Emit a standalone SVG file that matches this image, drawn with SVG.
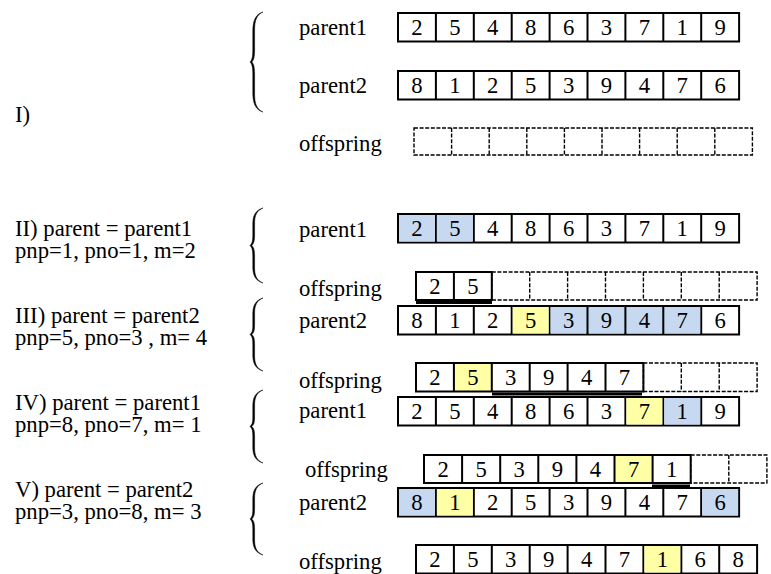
<svg xmlns="http://www.w3.org/2000/svg" xmlns:xlink="http://www.w3.org/1999/xlink" width="771" height="574" viewBox="0 0 771 574">
  <style>
    text { font-family: "Liberation Serif", "Times New Roman", serif; font-size: 22.7px; fill: #000; }
    .num { text-anchor: middle; }
    .box { fill: none; stroke: #000; stroke-width: 2; }
    .dash { fill: none; stroke: #000; stroke-width: 1.4; stroke-dasharray: 4 1.6; }
    .blue { fill: #C6D9F1; }
    .yel { fill: #FFFFA6; }
    .brace { fill: #000; stroke: #000; stroke-width: 0.5; stroke-linejoin: round; }
    .uline { stroke: #000; stroke-width: 3; }
  </style>
  <defs>
    <!-- nine solid cells, 37.9 wide -->
    <g id="solid9">
      <rect width="341.1" height="28.5" fill="#fff"/>
      <rect class="box" width="341.1" height="28.5"/>
      <path class="box" d="M37.9 0v28.5M75.8 0v28.5M113.7 0v28.5M151.6 0v28.5M189.5 0v28.5M227.4 0v28.5M265.3 0v28.5M303.2 0v28.5"/>
    </g>
  </defs>

  <!-- step labels -->
  <g id="labels">
    <text x="15" y="122">I)</text>
    <text x="15" y="236">II) parent = parent1</text>
    <text x="15" y="258">pnp=1, pno=1, m=2</text>
    <text x="15" y="323">III) parent = parent2</text>
    <text x="15" y="345">pnp=5, pno=3 , m= 4</text>
    <text x="15" y="410">IV) parent = parent1</text>
    <text x="15" y="432">pnp=8, pno=7, m= 1</text>
    <text x="15" y="497">V) parent = parent2</text>
    <text x="15" y="519">pnp=3, pno=8, m= 3</text>
  </g>

  <!-- braces: filled so the arms swell like a typeset brace -->
  <g id="braces">
    <path class="brace" d="M263 12C256 14 253 20 252.8 30L252.8 50C252.8 57 252 60 250 62C252 64 252.8 67 252.8 74L252.8 94C253 104 256 110 263 112C257 109.5 254.6 104 254.6 94L254.6 74C254.6 67 253.8 64 251.8 62C253.8 60 254.6 57 254.6 50L254.6 30C254.6 20 257 14.5 263 12Z"/>
    <path class="brace" d="M263 208C256 210 253 215 252.8 223L252.8 235C252.8 241 252 243.5 250 245.5C252 247.5 252.8 250 252.8 256L252.8 268C253 276 256 281 263 283C257 280.5 254.6 276 254.6 268L254.6 256C254.6 250 253.8 247.5 251.8 245.5C253.8 243.5 254.6 241 254.6 235L254.6 223C254.6 215 257 210.5 263 208Z"/>
    <path class="brace" d="M263 298C256 300 253 305 252.8 313L252.8 325C252.8 331 252 332.5 250 334.5C252 336.5 252.8 338 252.8 344L252.8 356C253 364 256 369 263 371C257 368.5 254.6 364 254.6 356L254.6 344C254.6 338 253.8 336.5 251.8 334.5C253.8 332.5 254.6 331 254.6 325L254.6 313C254.6 305 257 300.5 263 298Z"/>
    <path class="brace" d="M263 390C256 392 253 397 252.8 405L252.8 417C252.8 423 252 424.5 250 426.5C252 428.5 252.8 430 252.8 436L252.8 448C253 456 256 461 263 463C257 460.5 254.6 456 254.6 448L254.6 436C254.6 430 253.8 428.5 251.8 426.5C253.8 424.5 254.6 423 254.6 417L254.6 405C254.6 397 257 392.5 263 390Z"/>
    <path class="brace" d="M263 483C256 485 253 490 252.8 498L252.8 509C252.8 515 252 517 250 519C252 521 252.8 523 252.8 529L252.8 540C253 548 256 553 263 555C257 552.5 254.6 548 254.6 540L254.6 529C254.6 523 253.8 521 251.8 519C253.8 517 254.6 515 254.6 509L254.6 498C254.6 490 257 485.5 263 483Z"/>
  </g>

  <!-- I) initial parents and empty offspring -->
  <g id="step1-parent1">
    <text x="299" y="35">parent1</text>
    <g transform="translate(398,13)">
      <use xlink:href="#solid9"/>
      <g transform="translate(0,21.5)">
        <text class="num" x="18.95">2</text><text class="num" x="56.85">5</text><text class="num" x="94.75">4</text>
        <text class="num" x="132.65">8</text><text class="num" x="170.55">6</text><text class="num" x="208.45">3</text>
        <text class="num" x="246.35">7</text><text class="num" x="284.25">1</text><text class="num" x="322.15">9</text>
      </g>
    </g>
  </g>
  <g id="step1-parent2">
    <text x="299" y="93">parent2</text>
    <g transform="translate(398,71)">
      <use xlink:href="#solid9"/>
      <g transform="translate(0,21.5)">
        <text class="num" x="18.95">8</text><text class="num" x="56.85">1</text><text class="num" x="94.75">2</text>
        <text class="num" x="132.65">5</text><text class="num" x="170.55">3</text><text class="num" x="208.45">9</text>
        <text class="num" x="246.35">4</text><text class="num" x="284.25">7</text><text class="num" x="322.15">6</text>
      </g>
    </g>
  </g>
  <g id="step1-offspring">
    <text x="299" y="151">offspring</text>
    <g transform="translate(414,128)">
      <rect class="dash" width="338.4" height="27"/>
      <path class="dash" d="M37.6 0v27M75.2 0v27M112.8 0v27M150.4 0v27M188 0v27M225.6 0v27M263.2 0v27M300.8 0v27"/>
    </g>
  </g>

  <!-- II) -->
  <g id="step2-parent1">
    <text x="299" y="237">parent1</text>
    <g transform="translate(398,214)">
      <use xlink:href="#solid9"/>
      <rect class="blue" x="1" y="1" width="35.9" height="26.5"/>
      <rect class="blue" x="38.9" y="1" width="35.9" height="26.5"/>
      <g transform="translate(0,21.5)">
        <text class="num" x="18.95">2</text><text class="num" x="56.85">5</text><text class="num" x="94.75">4</text>
        <text class="num" x="132.65">8</text><text class="num" x="170.55">6</text><text class="num" x="208.45">3</text>
        <text class="num" x="246.35">7</text><text class="num" x="284.25">1</text><text class="num" x="322.15">9</text>
      </g>
    </g>
  </g>
  <g id="step2-offspring">
    <text x="299" y="296">offspring</text>
    <g transform="translate(416,272)">
      <rect class="box" width="75.8" height="28"/>
      <path class="box" d="M37.9 0v28"/>
      <rect class="dash" x="75.8" width="265.3" height="28"/>
      <path class="dash" d="M113.7 0v28M151.6 0v28M189.5 0v28M227.4 0v28M265.3 0v28M303.2 0v28"/>
      <g transform="translate(0,21.5)">
        <text class="num" x="18.95">2</text><text class="num" x="56.85">5</text>
      </g>
    </g>
  </g>

  <!-- III) -->
  <g id="step3-parent2">
    <text x="299" y="328">parent2</text>
    <g transform="translate(398,306)">
      <use xlink:href="#solid9"/>
      <rect class="yel" x="114.7" y="1" width="35.9" height="26.5"/>
      <rect class="blue" x="152.6" y="1" width="149.6" height="26.5"/>
      <path class="box" d="M189.5 0v28.5M227.4 0v28.5M265.3 0v28.5"/>
      <g transform="translate(0,21.5)">
        <text class="num" x="18.95">8</text><text class="num" x="56.85">1</text><text class="num" x="94.75">2</text>
        <text class="num" x="132.65">5</text><text class="num" x="170.55">3</text><text class="num" x="208.45">9</text>
        <text class="num" x="246.35">4</text><text class="num" x="284.25">7</text><text class="num" x="322.15">6</text>
      </g>
    </g>
  </g>
  <g id="step3-offspring">
    <text x="299" y="388">offspring</text>
    <g transform="translate(416,363)">
      <rect class="yel" x="37.9" width="37.9" height="28.5"/>
      <rect class="box" width="227.4" height="28.5"/>
      <path class="box" d="M37.9 0v28.5M75.8 0v28.5M113.7 0v28.5M151.6 0v28.5M189.5 0v28.5"/>
      <rect class="dash" x="227.4" width="113.7" height="28.5"/>
      <path class="dash" d="M265.3 0v28.5M303.2 0v28.5"/>
      <g transform="translate(0,21.5)">
        <text class="num" x="18.95">2</text><text class="num" x="56.85">5</text><text class="num" x="94.75">3</text>
        <text class="num" x="132.65">9</text><text class="num" x="170.55">4</text><text class="num" x="208.45">7</text>
      </g>
    </g>
  </g>

  <!-- IV) -->
  <g id="step4-parent1">
    <text x="299" y="418">parent1</text>
    <g transform="translate(398,397)">
      <use xlink:href="#solid9"/>
      <rect class="yel" x="228.4" y="1" width="35.9" height="26.5"/>
      <rect class="blue" x="266.3" y="1" width="35.9" height="26.5"/>
      <g transform="translate(0,21.5)">
        <text class="num" x="18.95">2</text><text class="num" x="56.85">5</text><text class="num" x="94.75">4</text>
        <text class="num" x="132.65">8</text><text class="num" x="170.55">6</text><text class="num" x="208.45">3</text>
        <text class="num" x="246.35">7</text><text class="num" x="284.25">1</text><text class="num" x="322.15">9</text>
      </g>
    </g>
  </g>
  <g id="step4-offspring">
    <text x="305" y="477">offspring</text>
    <g transform="translate(424,455)">
      <rect class="yel" x="190.5" width="38.1" height="28"/>
      <rect class="box" width="266.7" height="28"/>
      <path class="box" d="M38.1 0v28M76.2 0v28M114.3 0v28M152.4 0v28M190.5 0v28M228.6 0v28"/>
      <rect class="dash" x="266.7" width="76.2" height="28"/>
      <path class="dash" d="M304.8 0v28"/>
      <g transform="translate(0,21.5)">
        <text class="num" x="19.05">2</text><text class="num" x="57.15">5</text><text class="num" x="95.25">3</text>
        <text class="num" x="133.35">9</text><text class="num" x="171.45">4</text><text class="num" x="209.55">7</text>
        <text class="num" x="247.65">1</text>
      </g>
    </g>
  </g>

  <!-- V) -->
  <g id="step5-parent2">
    <text x="299" y="510">parent2</text>
    <g transform="translate(398,488)">
      <use xlink:href="#solid9"/>
      <rect class="blue" x="1" y="1" width="35.9" height="26.5"/>
      <rect class="yel" x="38.9" y="1" width="35.9" height="26.5"/>
      <rect class="blue" x="304.2" y="1" width="35.9" height="26.5"/>
      <g transform="translate(0,21.5)">
        <text class="num" x="18.95">8</text><text class="num" x="56.85">1</text><text class="num" x="94.75">2</text>
        <text class="num" x="132.65">5</text><text class="num" x="170.55">3</text><text class="num" x="208.45">9</text>
        <text class="num" x="246.35">4</text><text class="num" x="284.25">7</text><text class="num" x="322.15">6</text>
      </g>
    </g>
  </g>
  <g id="step5-offspring">
    <text x="299" y="569">offspring</text>
    <g transform="translate(416,545)">
      <use xlink:href="#solid9"/>
      <rect class="yel" x="228.4" y="1" width="35.9" height="26.5"/>
      <g transform="translate(0,21.5)">
        <text class="num" x="18.95">2</text><text class="num" x="56.85">5</text><text class="num" x="94.75">3</text>
        <text class="num" x="132.65">9</text><text class="num" x="170.55">4</text><text class="num" x="208.45">7</text>
        <text class="num" x="246.35">1</text><text class="num" x="284.25">6</text><text class="num" x="322.15">8</text>
      </g>
    </g>
  </g>

  <!-- underlines marking copied segments -->
  <g id="connectors">
    <line class="uline" x1="416" y1="302.5" x2="492" y2="302.5"/>
    <line class="uline" x1="492" y1="394" x2="642" y2="394"/>
    <line class="uline" x1="652" y1="486" x2="690" y2="486"/>
  </g>
</svg>
